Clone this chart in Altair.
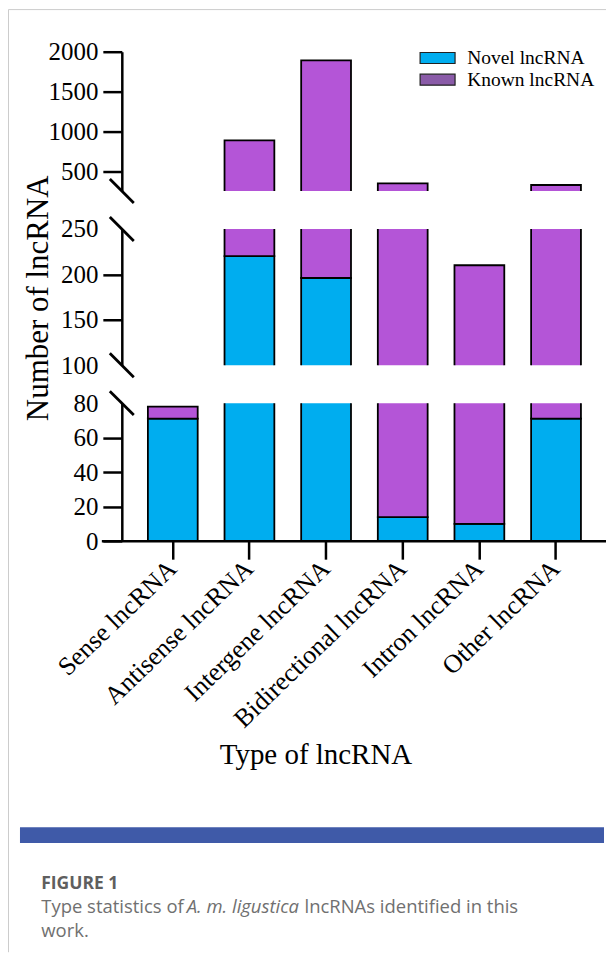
import altair as alt
import pandas as pd

# ---------------- data ----------------
categories = ["Sense lncRNA", "Antisense lncRNA", "Intergene lncRNA",
              "Bidirectional lncRNA", "Intron lncRNA", "Other lncRNA"]
series_names = ["Novel lncRNA", "Known lncRNA"]
novel_values = [71, 220, 196, 14, 10, 71]
known_values = [7, 665, 1694, 332, 200, 254]
bar_colors = ["#00ADEF", "#B455D7"]
legend_colors = ["#00ADEF", "#8A5BA8"]

top_domain = [250, 2000]
top_ticks = [500, 1000, 1500, 2000]
mid_domain = [100, 250]
mid_ticks = [100, 150, 200, 250]
bottom_domain = [0, 80]
bottom_ticks = [0, 20, 40, 60, 80]

y_title = "Number of lncRNA"
x_title = "Type of lncRNA"
fig_label = "FIGURE 1"
caption_parts = ["Type statistics of ", "A. m. ligustica", " lncRNAs identified in this", "work."]

rows = []
for i, cat in enumerate(categories):
    rows.append({"category": cat, "series": series_names[0], "value": novel_values[i], "order": 0})
    rows.append({"category": cat, "series": series_names[1], "value": known_values[i], "order": 1})
df = pd.DataFrame(rows)
legend_df = pd.DataFrame({"label": series_names, "swatch": legend_colors})
one = pd.DataFrame({"k": [0]})

SERIF = "Liberation Serif"
SANS = "Open Sans"
W = 486
H_TOP, H_MID, H_BOT = 139.5, 136.5, 138.3


def y_axis(ticks, hidden, **extra):
    kw = dict(values=ticks, format="d", tickSize=19, tickWidth=2.5, tickColor="black",
              labelFontSize=25, labelPadding=5, labelFont=SERIF, labelColor="black",
              labelOverlap=False, domainWidth=2.5, domainColor="black", grid=False, title="")
    if hidden:
        test = " || ".join(f"datum.value == {v}" for v in hidden)
        kw["tickOpacity"] = alt.condition(test, alt.value(0), alt.value(1))
    kw.update(extra)
    return alt.Axis(**kw)


def bars(domain, axis, height, x_axis=None):
    x_kw = dict(sort=categories, scale=alt.Scale(paddingInner=0.35, paddingOuter=0.34), title="")
    if x_axis is None:
        xenc = alt.X("category:N", axis=None, **x_kw)
    else:
        xenc = alt.X("category:N", axis=x_axis, **x_kw)
    return alt.Chart(df).mark_bar(stroke="black", strokeWidth=1.8, clip=True).encode(
        x=xenc,
        y=alt.Y("value:Q", stack="zero",
                scale=alt.Scale(domain=domain, nice=False, zero=False), axis=axis),
        fill=alt.Fill("series:N", scale=alt.Scale(domain=series_names, range=bar_colors), legend=None),
        order=alt.Order("order:Q"),
    ).properties(width=W, height=height)


def slash(c):
    return alt.Chart(one).mark_rule(color="black", strokeWidth=2.8).encode(
        x=alt.value(-12), x2=alt.value(12), y=alt.value(c - 12), y2=alt.value(c + 12))


def rule(x1, x2, y1, y2, color, w):
    return alt.Chart(one).mark_rule(color=color, strokeWidth=w).encode(
        x=alt.value(x1), x2=alt.value(x2), y=alt.value(y1), y2=alt.value(y2))


# ---------------- top panel ----------------
leg_scale = alt.Scale(type="point", domain=series_names, range=[6.3, 28], padding=0)
leg_points = alt.Chart(legend_df).mark_point(
    shape="M-1,-0.314H1V0.314H-1Z", size=1225, filled=True, opacity=1,
    stroke="#222222", strokeWidth=1.2).encode(
    x=alt.value(316.3),
    y=alt.Y("label:N", scale=leg_scale, axis=None),
    fill=alt.Fill("swatch:N", scale=None, legend=None),
)
leg_text = alt.Chart(legend_df).mark_text(
    align="left", baseline="middle", font=SERIF, fontSize=19.5, color="black").encode(
    x=alt.value(346),
    y=alt.Y("label:N", scale=leg_scale, axis=None),
    text="label:N",
)

top = alt.layer(
    bars(top_domain, y_axis(top_ticks, []), H_TOP),
    slash(H_TOP),
    rule(-113.5, -113.5, -42.2, 902, "#cccccc", 1),
    rule(-113.5, 485, -42.2, -42.2, "#cccccc", 1),
    leg_points, leg_text,
).resolve_scale(y="independent", fill="independent")

# ---------------- middle panel ----------------
mid_axis = y_axis(mid_ticks, [100, 250], title=y_title, titleFont=SERIF, titleFontSize=31,
                  titleFontWeight="normal", titleColor="black", titleX=-74, titleY=69,
                  titleAngle=-90, titleAlign="center", titleBaseline="alphabetic")
mid = alt.layer(
    bars(mid_domain, mid_axis, H_MID),
    slash(0), slash(H_MID),
)

# ---------------- bottom panel ----------------
x_axis = alt.Axis(domain=False, tickSize=18, tickWidth=2.5, tickColor="black",
                  labelAngle=-44, labelAlign="right", labelBaseline="middle",
                  labelFont=SERIF, labelFontSize=26, labelColor="black", labelPadding=5,
                  labelLimit=400, labelOverlap=False,
                  title=x_title, titleFont=SERIF, titleFontSize=29, titleFontWeight="normal",
                  titleColor="black", titleX=194, titleY=223, titleAlign="center",
                  titleBaseline="alphabetic")

x_line = alt.Chart(one).mark_rule(color="black", strokeWidth=2.5).encode(
    x=alt.value(-20), x2=alt.value(485), y=alt.value(H_BOT))

band = alt.Chart(one).mark_rect(color="#3F5AA8").encode(
    x=alt.value(-102), x2=alt.value(483), y=alt.value(424.8), y2=alt.value(440.5))


def txt(s, x, y, **kw):
    base = dict(align="left", baseline="alphabetic", font=SANS, fontSize=18.5, color="#707070")
    base.update(kw)
    return alt.Chart(one).mark_text(text=s, **base).encode(x=alt.value(x), y=alt.value(y))


bottom = alt.layer(
    bars(bottom_domain, y_axis(bottom_ticks, [80]), H_BOT, x_axis),
    x_line,
    slash(0),
    band,
    txt(fig_label, -80.7, 486.5, fontWeight="bold", fontSize=17.5, color="#5f5f5f"),
    txt(caption_parts[0], -80.7, 511),
    txt(caption_parts[1], 65, 511, fontStyle="italic"),
    txt(caption_parts[2], 183, 511),
    txt(caption_parts[3], -80.7, 535),
)

chart = alt.vconcat(top, mid, bottom, spacing=37.5, bounds="flush").properties(
    padding=0
).configure_view(strokeWidth=0).configure_axis(grid=False)

chart.save("out.html", embed_options={"renderer": "svg", "actions": False})
